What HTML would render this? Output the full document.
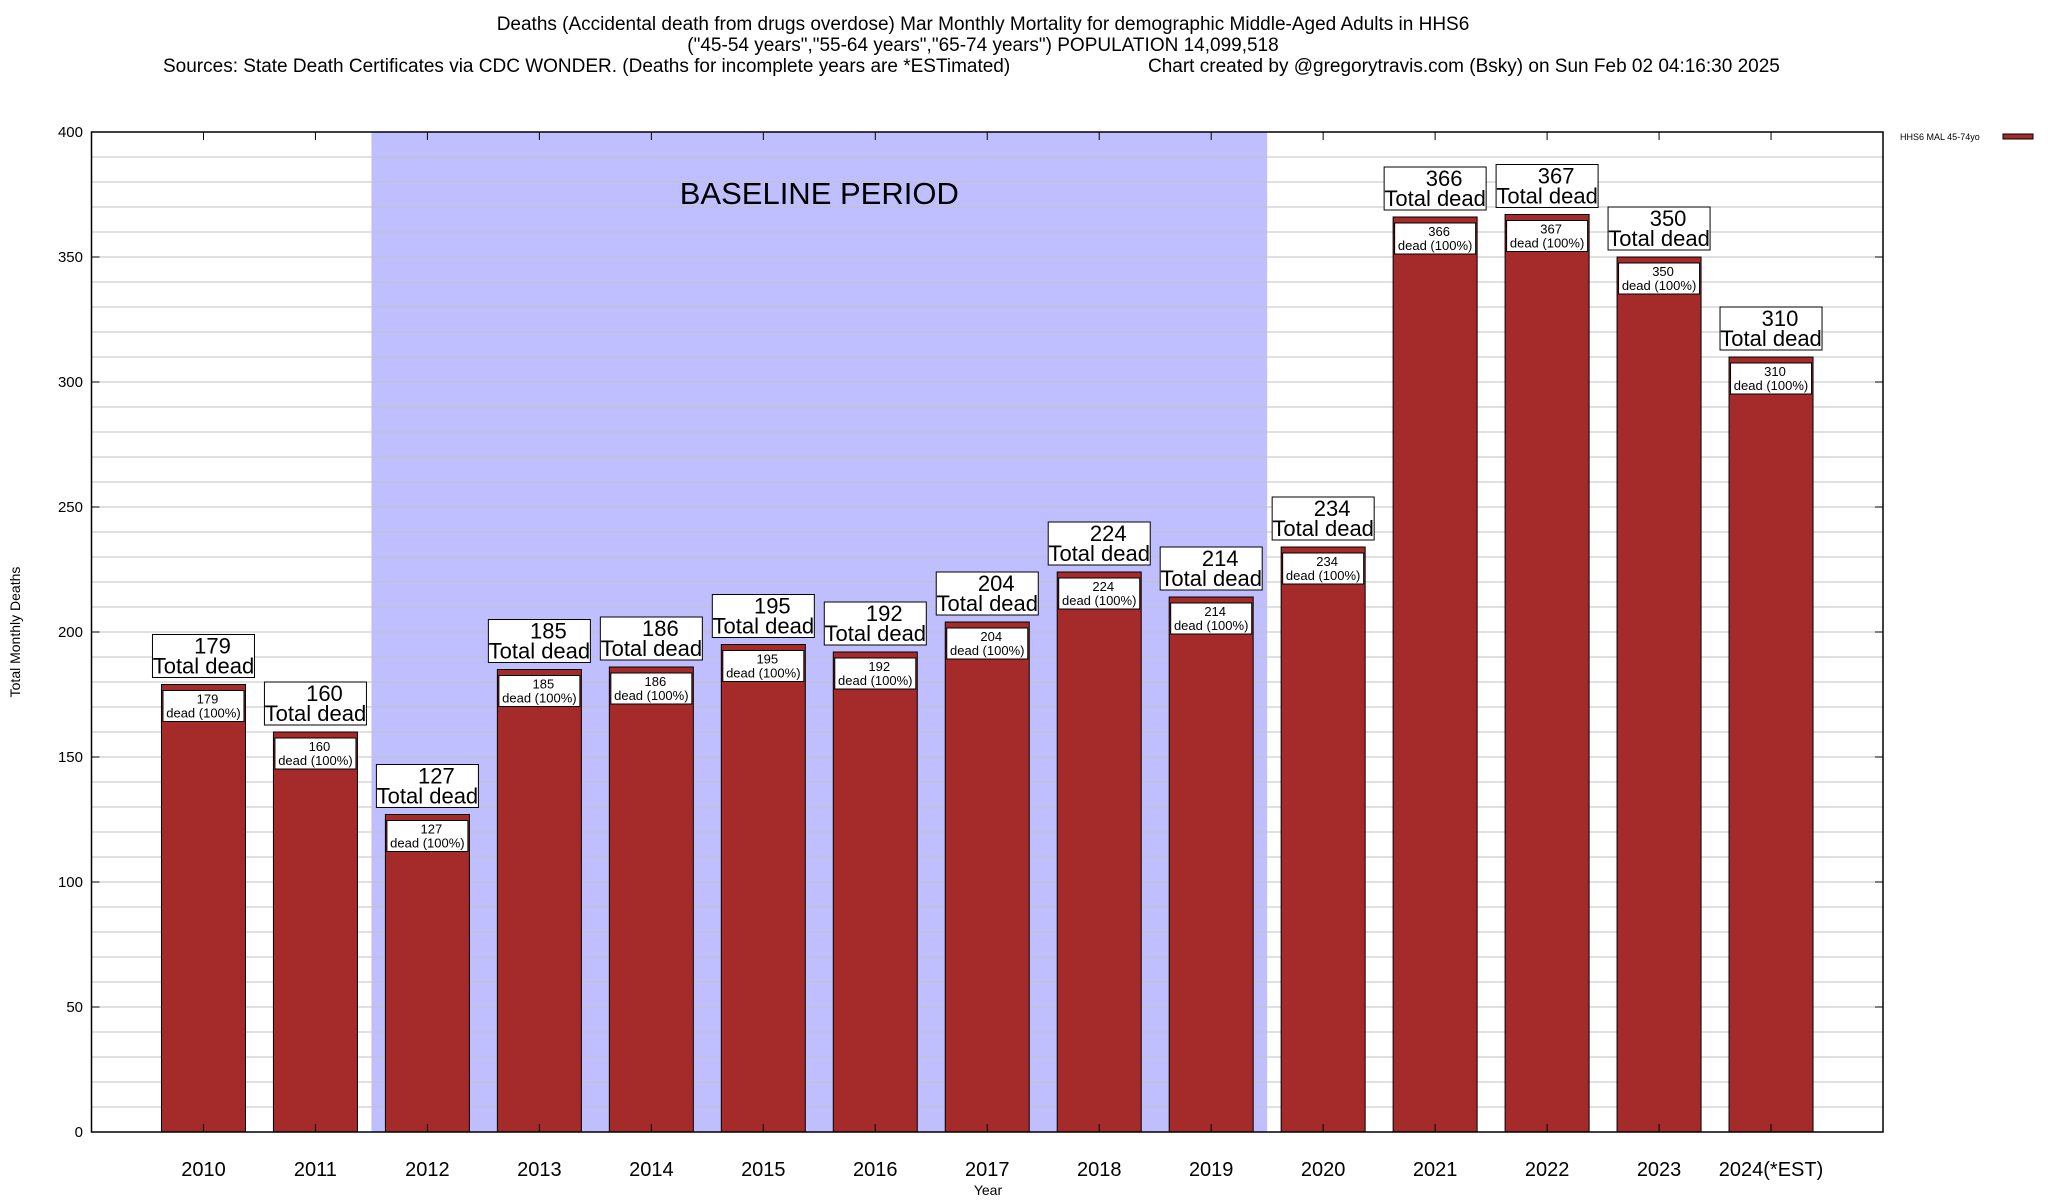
<!DOCTYPE html>
<html><head><meta charset="utf-8"><style>
html,body{margin:0;padding:0;background:#fff;}
svg{display:block;font-family:"Liberation Sans",Arial,sans-serif;}
</style></head><body>
<svg id="chart" width="2048" height="1200" viewBox="0 0 2048 1200" xmlns="http://www.w3.org/2000/svg">
<g font-size="19" text-anchor="middle" fill="#000">
<text x="983" y="30">Deaths (Accidental death from drugs overdose) Mar Monthly Mortality for demographic Middle-Aged Adults in HHS6</text>
<text x="983" y="51">("45-54 years","55-64 years","65-74 years") POPULATION 14,099,518</text>
<text x="163" y="72" text-anchor="start">Sources: State Death Certificates via CDC WONDER. (Deaths for incomplete years are *ESTimated)</text>
<text x="1148" y="72" text-anchor="start">Chart created by @gregorytravis.com (Bsky) on Sun Feb 02 04:16:30 2025</text>
</g>
<g id="plot"></g>
<g>
<text x="1900" y="140" font-size="9" text-anchor="start">HHS6 MAL 45-74yo</text>
<rect x="2003" y="134" width="30" height="5" fill="#a52a2a" stroke="#000" stroke-width="1"/>
</g>
<text x="20" y="632" font-size="14" text-anchor="middle" transform="rotate(-90 20 632)">Total Monthly Deaths</text>
<text x="988" y="1195" font-size="14" text-anchor="middle">Year</text>
</svg>
<script>
const categories = ["2010","2011","2012","2013","2014","2015","2016","2017","2018","2019","2020","2021","2022","2023","2024(*EST)"];
const values = [179,160,127,185,186,195,192,204,224,214,234,366,367,350,310];
const yTicks = [0,50,100,150,200,250,300,350,400];
const baselineStart = 2; // index of 2012
const baselineEnd = 9;   // index of 2019

const NS = "http://www.w3.org/2000/svg";
const L = 91.5, R = 1883, T = 132, B = 1132;
const yMax = 400;
const slot = (R - L) / (categories.length + 1);
function xScale(i){ return L + slot * (i + 1); }
function yScale(v){ return B - (v / yMax) * (B - T); }
const plot = document.getElementById('plot');
function mk(tag, attrs, parent){
  const e = document.createElementNS(NS, tag);
  for (const k in attrs) e.setAttribute(k, attrs[k]);
  (parent || plot).appendChild(e);
  return e;
}
// baseline shading
const bs = mk('rect', {x: xScale(baselineStart) - slot/2, y: T, width: xScale(baselineEnd) - xScale(baselineStart) + slot, height: B - T, fill: '#bfbfff'});


const bt = mk('text', {x: (xScale(baselineStart) + xScale(baselineEnd))/2, y: 204, 'font-size': 31, 'text-anchor': 'middle'});
bt.textContent = 'BASELINE PERIOD';


// grid lines every 10
for (let v = 10; v < yMax; v += 10) {
  const g = mk('line', {x1: L, x2: R, y1: yScale(v), y2: yScale(v), stroke: '#c0c0c0', 'stroke-width': 1});
  
  
}
// y ticks
yTicks.forEach(v => {
  const y = yScale(v);
  mk('line', {x1: L, x2: L + 8, y1: y, y2: y, stroke: '#000'});
  mk('line', {x1: R - 8, x2: R, y1: y, y2: y, stroke: '#000'});
  const t = mk('text', {x: 83, y: y + 5, 'font-size': 15, 'text-anchor': 'end'});
  t.textContent = v;
  
  
});
// bars
const bw = 84;
categories.forEach((c, i) => {
  const cx = xScale(i), v = values[i], yt = yScale(v);
  const bar = mk('rect', {x: cx - bw/2, y: yt, width: bw, height: B - yt, fill: '#a52a2a', stroke: '#000', 'stroke-width': 1});
  
  
  const ib = mk('rect', {x: cx - 40.5, y: yt + 6, width: 81, height: 31, fill: '#fff', stroke: '#000', 'stroke-width': 1});
  
  
  const it1 = mk('text', {x: cx + 4, y: yt + 19, 'font-size': 13, 'text-anchor': 'middle'});
  it1.textContent = v;
  const it2 = mk('text', {x: cx, y: yt + 33, 'font-size': 13, 'text-anchor': 'middle'});
  it2.textContent = 'dead (100%)';
  const ob = mk('rect', {x: cx - 51, y: yt - 50, width: 102, height: 43, fill: '#fff', stroke: '#000', 'stroke-width': 1});
  
  
  const ot1 = mk('text', {x: cx + 9, y: yt - 31, 'font-size': 22, 'text-anchor': 'middle'});
  ot1.textContent = v;
  
  
  const ot2 = mk('text', {x: cx, y: yt - 11, 'font-size': 22, 'text-anchor': 'middle'});
  ot2.textContent = 'Total dead';
  const xl = mk('text', {x: cx, y: 1176, 'font-size': 20, 'text-anchor': 'middle'});
  xl.textContent = c;
  
  
  mk('line', {x1: cx, x2: cx, y1: B, y2: B - 8, stroke: '#000'});
  mk('line', {x1: cx, x2: cx, y1: T, y2: T + 8, stroke: '#000'});
});
// frame
const fr = mk('rect', {x: L, y: T, width: R - L, height: B - T, fill: 'none', stroke: '#000', 'stroke-width': 1.5});


</script>
</body></html>
